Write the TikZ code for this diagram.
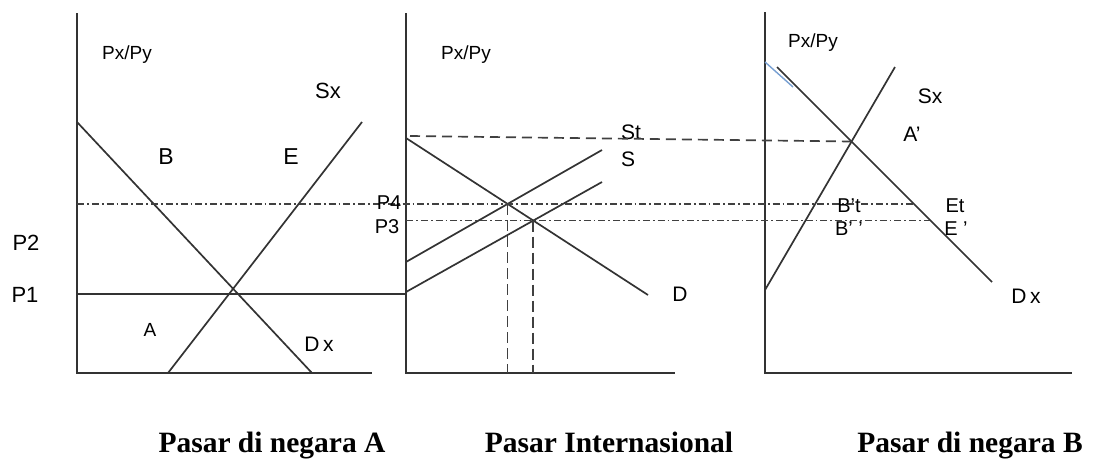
\documentclass[tikz,border=0pt]{standalone}
\usepackage{fontspec}
\setmainfont{Liberation Sans}
\newfontfamily\titlefont{Liberation Serif}
\newcommand\sq{\char"27\relax}
\definecolor{lineblue}{RGB}{120,160,210}
\begin{document}
\begin{tikzpicture}[x=1pt,y=-1pt,
  axis/.style={line width=2.4pt,draw=black!80},
  curve/.style={line width=1.7pt,draw=black!80},
  dashdot/.style={line width=1.8pt,draw=black!75,dash pattern=on 7pt off 3pt on 1.8pt off 3pt},
  longdash/.style={line width=1.7pt,draw=black!75,dash pattern=on 10pt off 6pt},
  vdash/.style={line width=1.7pt,draw=black!75,dash pattern=on 11pt off 5pt},
  small/.style={inner sep=0pt,font=\fontsize{19}{19}\selectfont},
  lab/.style={inner sep=0pt,font=\fontsize{21}{21}\selectfont},
  ttl/.style={inner sep=0pt,anchor=base,font=\titlefont\bfseries\fontsize{29.5}{29.5}\selectfont}]
\useasboundingbox (0,0) rectangle (1093,459);
% ---------- Panel A ----------
\coordinate (a0) at (77,373);
\draw[axis] (77,13) -- (a0) -- (372,373);
\draw[curve] (77,122) -- (312,373);
\draw[curve] (168,373) -- (362,122);
\draw[curve] (77,294) -- (406,294);
\node[small] (pxa) at (127,55) {Px/Py};
\node[lab,font=\fontsize{22}{22}\selectfont] (sxa) at (328,91) {Sx};
\node[lab,font=\fontsize{23}{23}\selectfont] (ba) at (166,157) {B};
\node[lab,font=\fontsize{23}{23}\selectfont] (ea) at (291,157) {E};
\node[lab,font=\fontsize{22}{22}\selectfont] (p2) at (26,243) {P2};
\node[lab,font=\fontsize{22}{22}\selectfont] (p1) at (25,295) {P1};
\node[lab,font=\fontsize{19}{19}\selectfont] (aa) at (150,330) {A};
\node[lab] (dxa) at (319,344) {D\,x};
% ---------- Panel International ----------
\coordinate (b0) at (406,373);
\draw[axis] (406,13) -- (b0) -- (675,373);
\draw[curve] (406,138) -- (648,295);
\draw[curve] (406,262) -- (602,150);
\draw[curve] (406,292) -- (602,182);
\coordinate (i4) at (507.6,204);
\coordinate (i3) at (533,220.5);
\draw[vdash] (i4) -- (507.6,373);
\draw[vdash] (i3) -- (533,373);
\node[small] (pxb) at (466,55) {Px/Py};
\node[lab] (st) at (631,132) {St};
\node[lab] (s) at (628,159) {S};
\node[lab] (d) at (680,294) {D};
% ---------- Panel B ----------
\coordinate (c0) at (765,373);
\draw[axis] (765,12) -- (c0) -- (1072,373);
\draw[curve] (777,67) -- (992,282);
\draw[curve] (765,290) -- (895,67);
\draw[line width=1.4pt,draw=lineblue] (765,62) -- (793,87);
\coordinate (eq) at (851.5,141.5);
\node[small] (pxc) at (813,43) {Px/Py};
\node[lab] (sxc) at (930,96) {Sx};
\node[lab] (ap) at (912,134) {A\sq};
\node[lab] (dxc) at (1026,296) {D\,x};
% ---------- horizontal price lines ----------
\draw[dashdot] (77,204) -- (914,204);
\draw[dashdot] (406,220.5) -- (930,220.5);
\draw[longdash] (410,136) -- (eq);
\node[lab,font=\fontsize{20}{20}\selectfont] (p4) at (389,203) {P4};
\node[lab,font=\fontsize{20}{20}\selectfont] (p3) at (387,227) {P3};
\node[lab,font=\fontsize{20}{20}\selectfont] (bt) at (849,206) {B\sq t};
\node[lab,font=\fontsize{20}{20}\selectfont] (bb) at (849,229) {B\sq\ \sq};
\node[lab,font=\fontsize{20}{20}\selectfont] (et) at (955,206) {Et};
\node[lab,font=\fontsize{20}{20}\selectfont] (ep) at (956,229) {E \sq};
% ---------- titles ----------
\node[ttl] (t1) at (272,452) {Pasar di negara A};
\node[ttl] (t2) at (609,452) {Pasar Internasional};
\node[ttl] (t3) at (970,452) {Pasar di negara B};
\end{tikzpicture}
\end{document}
